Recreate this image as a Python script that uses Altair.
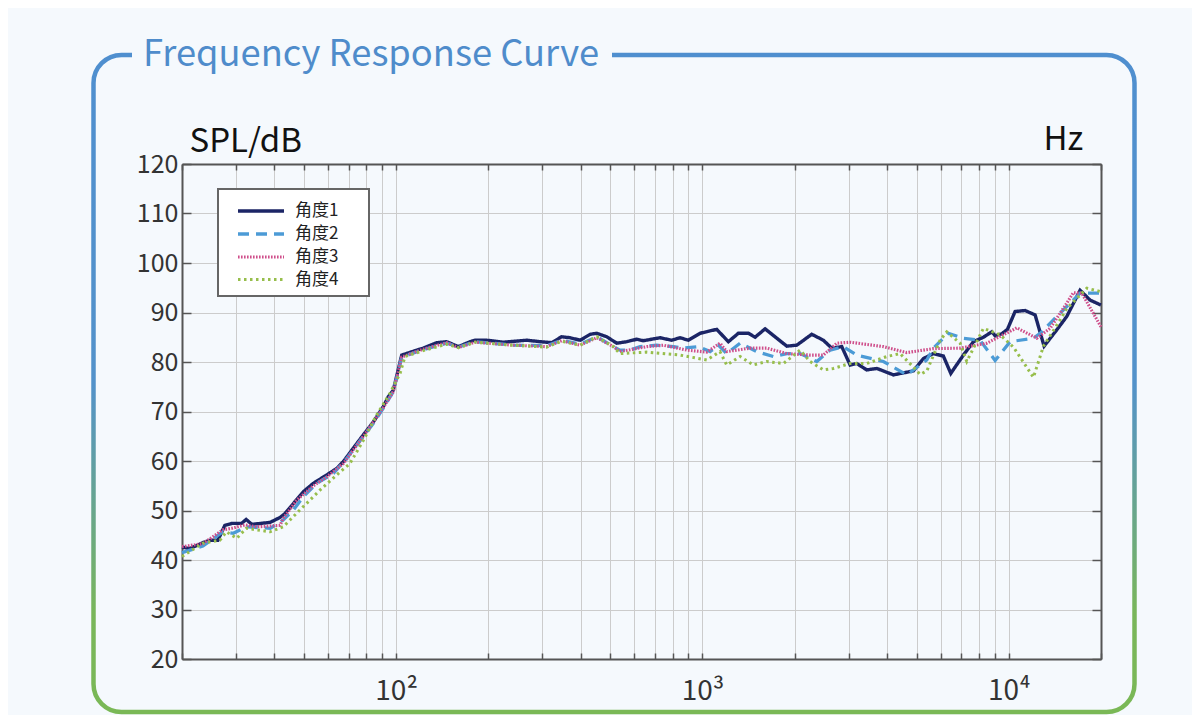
import altair as alt
import pandas as pd

# ---------------- data ----------------
series_names = ["角度1", "角度2", "角度3", "角度4"]

freq1 = [20, 21.2, 23.4, 24.7, 26.2, 27.6, 29.1, 31.3, 32.4, 33.8, 38.8, 41.8, 43.4, 46.2, 49.8,
         53.7, 59.4, 64.0, 67.3, 72.5, 78.2, 84.3, 90.8, 94.3, 97.9, 104.3, 116.8, 122.7, 135.7, 146.3,
         159.7, 174.4, 181, 197.6, 223.9, 267, 295, 322, 347, 370, 399, 430, 452, 487, 525,
         566, 610, 641, 727, 794, 845, 900, 982, 1113, 1215, 1310, 1413, 1485, 1601, 1749,
         1885, 2032, 2274, 2481, 2643, 2850, 3034, 3190, 3439, 3709, 4201, 4881, 5264, 5674, 6117,
         6467, 7109, 7665, 8264, 8802, 9024, 9490, 9899, 10487, 11309, 12191, 13040, 14345, 15463, 17091,
         18427, 20000]
spl1 = [42.6, 42.3, 43.5, 44.0, 44.0, 47.0, 47.4, 47.4, 48.2, 47.2, 47.6, 48.6, 49.4, 51.4, 53.8,
        55.5, 57.2, 58.5, 59.9, 62.6, 65.3, 67.9, 71.0, 73.0, 74.3, 81.4, 82.4, 82.8, 83.9, 84.1,
        83.1, 84.1, 84.4, 84.4, 84.0, 84.4, 84.1, 83.9, 85.1, 84.9, 84.4, 85.6, 85.8, 85.1, 83.8,
        84.1, 84.6, 84.3, 84.9, 84.4, 84.9, 84.4, 85.8, 86.6, 84.1, 85.8, 85.8, 85.0, 86.7, 84.8,
        83.2, 83.4, 85.6, 84.4, 82.8, 83.1, 79.4, 79.7, 78.4, 78.7, 77.4, 78.2, 80.7, 81.7, 81.2,
        77.7, 81.4, 84.1, 85.0, 86.1, 85.3, 85.7, 86.6, 90.2, 90.4, 89.5, 83.2, 86.5, 89.2, 94.5,
        92.5, 91.5]

freq2 = [20, 23.4, 27.2, 29.4, 32.4, 38.8, 42.8, 46.2, 49.8, 55.1, 62.4, 69.0, 78.2, 84.3, 90.8,
         97.9, 104.3, 122.7, 146.3, 159.7, 181, 241, 310, 347, 399, 452, 512, 538, 580, 626,
         709, 804, 866, 970, 1059, 1127, 1200, 1327, 1504, 1705, 1885, 2083, 2362, 2610, 2885,
         3190, 3896, 4645, 5400, 5674, 6351, 7109, 8058, 9024, 10100, 12036, 12657, 13984, 17091, 20000]
spl2 = [41.5, 42.8, 45.7, 45.4, 46.7, 46.4, 48.1, 50.1, 52.8, 55.5, 57.5, 60.5, 65.0, 67.6, 70.7,
        74.0, 81.0, 82.5, 83.8, 83.0, 84.1, 83.4, 83.3, 84.4, 83.6, 85.1, 83.1, 82.4, 82.4, 83.1,
        83.4, 83.1, 82.8, 83.1, 82.1, 83.4, 81.7, 83.8, 82.1, 81.1, 81.7, 81.7, 80.1, 82.4, 83.1,
        81.4, 80.1, 77.4, 80.4, 82.8, 85.8, 84.8, 84.4, 80.3, 84.1, 84.8, 85.8, 88.5, 93.9, 93.9]

freq3 = [20, 23.4, 27.2, 29.1, 32.1, 35.1, 41.8, 42.8, 47.4, 53.7, 59.4, 67.3, 78.2, 90.8, 97.9,
         104.3, 122.7, 146.3, 159.7, 181, 241, 310, 347, 399, 452, 512, 538, 658, 745, 889,
         1033, 1141, 1200, 1431, 1622, 1885, 2245, 2481, 2745, 3034, 3896, 4645, 5674, 6935, 8474,
         10624, 12347, 13640, 15463, 16250, 17320, 20000]
spl3 = [42.7, 43.3, 46.1, 46.4, 47.1, 46.7, 47.0, 48.4, 52.1, 55.0, 56.8, 59.5, 65.0, 70.8, 74.0,
        81.0, 82.6, 83.9, 82.9, 84.0, 83.4, 83.1, 84.3, 83.4, 84.9, 83.1, 82.1, 83.1, 83.4, 82.4,
        82.0, 83.8, 82.1, 82.8, 82.8, 81.7, 81.4, 81.4, 83.8, 84.0, 83.1, 81.9, 82.7, 82.8, 83.8,
        86.9, 84.8, 86.8, 91.9, 94.0, 93.9, 87.1]

freq4 = [20, 23.4, 26.6, 27.9, 30.2, 32.4, 38.8, 42.8, 49.8, 56.4, 64.0, 70.7, 78.2, 86.4, 95.5,
         103, 106.9, 122.7, 146.3, 159.7, 181, 241, 310, 347, 399, 452, 512, 538, 658, 845,
         1033, 1141, 1200, 1327, 1467, 1622, 1838, 2083, 2245, 2481, 2676, 3034, 3439, 3997, 4417,
         4881, 5134, 5400, 5967, 6275, 6935, 7293, 8264, 9369, 10356, 12036, 12976, 14707, 15463, 17982,
         20000]
spl4 = [40.7, 43.4, 44.0, 45.7, 44.4, 46.4, 45.7, 46.7, 50.8, 54.1, 57.2, 59.5, 64.2, 69.3, 73.7,
        77.7, 81.1, 82.3, 83.6, 82.9, 84.0, 83.4, 83.0, 84.2, 83.4, 85.1, 83.1, 81.7, 82.0, 81.4,
        80.4, 82.1, 79.4, 81.1, 79.4, 80.1, 79.7, 82.4, 80.1, 78.4, 78.7, 79.7, 79.7, 81.1, 81.7,
        79.0, 77.5, 78.2, 84.4, 86.1, 83.8, 80.1, 86.8, 85.5, 83.0, 76.9, 83.2, 88.5, 90.8, 94.9,
        94.2]

x_grid_values = [20, 30, 40, 50, 60, 70, 80, 90,
                 100, 200, 300, 400, 500, 600, 700, 800, 900,
                 1000, 2000, 3000, 4000, 5000, 6000, 7000, 8000, 9000,
                 10000, 20000]
y_tick_values = [20, 30, 40, 50, 60, 70, 80, 90, 100, 110, 120]

title_text = "Frequency Response Curve"
y_title = "SPL/dB"
x_title = "Hz"

# ---------------- table ----------------
rows = []
for name, fs, vs in zip(series_names, [freq1, freq2, freq3, freq4], [spl1, spl2, spl3, spl4]):
    for f, v in zip(fs, vs):
        rows.append({"freq": f, "spl": v, "series": name})
df = pd.DataFrame(rows)

# ---------------- style ----------------
BG = "#f5f9fd"
FONT = "Noto Sans CJK SC"
AXIS = "#555555"
GRID = "#cccccc"
W, H = 919, 495

line_colors = ["#1b2566", "#4c9bd6", "#cf4f8b", "#97be4c"]
line_dashes = [[1, 0], [11, 7], [1.6, 1.4], [2.5, 3.5]]
line_widths = [3.4, 3.0, 2.6, 3.0]

xscale = alt.Scale(type="log", domain=[20, 20000], nice=False)
yscale = alt.Scale(domain=[20, 120], nice=False)

label_expr = ("datum.value == 100 ? '10²' : datum.value == 1000 ? '10³' : "
              "datum.value == 10000 ? '10⁴' : ''")

legend = alt.Legend(
    orient="none", legendX=36, legendY=25, title=None,
    symbolType="M-2.3,0H2.3", symbolSize=400, symbolStrokeWidth=2.6,
    symbolOffset=21, labelOffset=22, padding=10, rowPadding=3,
    labelFont=FONT, labelFontSize=17, labelColor="#222222",
)

lines = alt.Chart(df).mark_line(strokeCap="butt").encode(
    x=alt.X("freq:Q", scale=xscale, axis=alt.Axis(
        values=x_grid_values, labelExpr=label_expr, labelOverlap=False, labelFlush=False,
        grid=True, gridColor=GRID, gridWidth=1,
        domainColor=AXIS, domainWidth=2, tickColor=AXIS, tickWidth=1.5,
        tickSize=alt.ExprRef(expr="-6"),
        labelFont=FONT, labelFontSize=28, labelColor="#333333", labelPadding=24,
        title=x_title, titleX=861, titleY=-510, titleAngle=0, titleAlign="left",
        titleBaseline="alphabetic", titleFont=FONT, titleFontSize=33,
        titleFontWeight="normal", titleColor="#111111")),
    y=alt.Y("spl:Q", scale=yscale, axis=alt.Axis(
        values=y_tick_values, grid=True, gridColor=GRID, gridWidth=1,
        domainColor=AXIS, domainWidth=2, tickColor=AXIS, tickWidth=1.5,
        tickSize=alt.ExprRef(expr="-9"),
        labelFont=FONT, labelFontSize=25, labelColor="#333333", labelPadding=13,
        title=y_title, titleX=7, titleY=-13, titleAngle=0, titleAlign="left",
        titleBaseline="alphabetic", titleFont=FONT, titleFontSize=33,
        titleFontWeight="normal", titleColor="#111111")),
    color=alt.Color("series:N", scale=alt.Scale(domain=series_names, range=line_colors), legend=legend),
    strokeDash=alt.StrokeDash("series:N", scale=alt.Scale(domain=series_names, range=line_dashes), legend=legend),
    strokeWidth=alt.StrokeWidth("series:N", scale=alt.Scale(domain=series_names, range=line_widths), legend=None),
)

box_axes = alt.Chart(df).mark_point(opacity=0).encode(
    x=alt.X("freq:Q", scale=xscale, axis=alt.Axis(
        orient="top", values=x_grid_values, labels=False, grid=False, title=None,
        domainColor=AXIS, domainWidth=2, tickColor=AXIS, tickWidth=1.5,
        tickSize=alt.ExprRef(expr="-6"))),
    y=alt.Y("spl:Q", scale=yscale, axis=alt.Axis(
        orient="right", values=y_tick_values, labels=False, grid=False, title=None,
        domainColor=AXIS, domainWidth=2, tickColor=AXIS, tickWidth=1.5,
        tickSize=alt.ExprRef(expr="-9"))),
)

deco = alt.Data(values=[{"k": 0}])

frame_gradient = alt.LinearGradient(
    gradient="linear", x1=0, y1=0, x2=0, y2=1,
    stops=[alt.GradientStop(color="#4f8fcf", offset=0),
           alt.GradientStop(color="#5392ca", offset=0.5),
           alt.GradientStop(color="#79b65a", offset=0.85),
           alt.GradientStop(color="#7ab856", offset=1)],
)

frame = alt.Chart(deco).mark_rect(
    fillOpacity=0, stroke=frame_gradient, strokeWidth=4.5, cornerRadius=28
).encode(x=alt.value(-88.5), x2=alt.value(952.5), y=alt.value(-109), y2=alt.value(548))

title_gap = alt.Chart(deco).mark_rect(fill=BG).encode(
    x=alt.value(-50), x2=alt.value(430), y=alt.value(-115), y2=alt.value(-103))

title = alt.Chart(deco).mark_text(
    text=title_text, font=FONT, fontSize=36.3, color="#4f8ccb", align="left", baseline="alphabetic"
).encode(x=alt.value(-39), y=alt.value(-98))

legend_box = alt.Chart(deco).mark_rect(fill="#ffffff", stroke="#666666", strokeWidth=2).encode(
    x=alt.value(36), x2=alt.value(187), y=alt.value(25), y2=alt.value(132))

chart = alt.layer(frame, title_gap, title, legend_box, lines, box_axes).resolve_axis(
    x="independent", y="independent"
).properties(
    width=W, height=H,
    background=BG,
    padding={"left": 174, "top": 156, "right": 91, "bottom": 56},
    autosize=alt.AutoSizeParams(type="none"),
).configure_view(stroke=None)

chart.save("out.html", embed_options={"renderer": "svg", "actions": False})
